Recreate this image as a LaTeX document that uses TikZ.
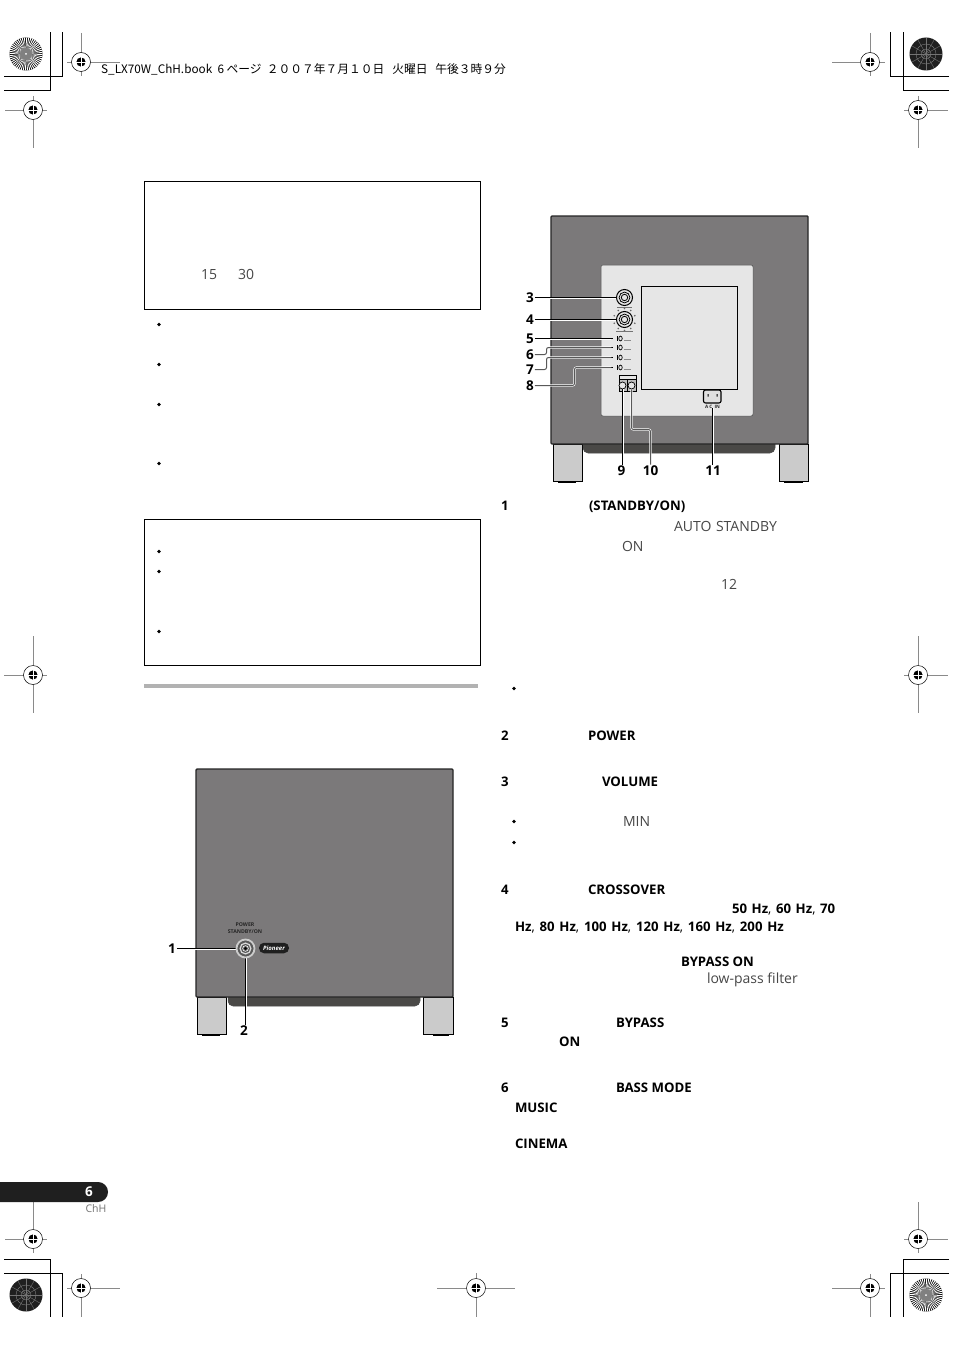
\documentclass[tikz,border=0pt]{standalone}
\usepackage{fontspec}
\setmainfont{Open Sans}
\newfontfamily\jpfont{Noto Sans CJK JP}
\definecolor{bodygray}{HTML}{7B797A}
\definecolor{stripgray}{HTML}{4A4947}
\definecolor{footgray}{HTML}{CBCBCB}
\definecolor{panelgray}{HTML}{E6E6E6}
\definecolor{regline}{HTML}{8A8A8A}
\tikzset{
  x=1pt,y=-1pt,
  txt/.style={anchor=base west,inner sep=0pt,outer sep=0pt,font=\fontsize{14}{14}\selectfont,text=black!72},
  btxt/.style={anchor=base west,inner sep=0pt,outer sep=0pt,font=\fontsize{13.2}{13.2}\selectfont\bfseries,text=black},
  numlab/.style={inner sep=0pt,outer sep=1pt,font=\fontsize{13.5}{13.5}\selectfont\bfseries,text=black},
  bul/.style={circle,fill=black,inner sep=0pt,minimum size=3.6pt},
  framebox/.style={draw=black,line width=0.8pt},
  leader/.style={draw=black,line width=1pt,preaction={draw=white,line width=2pt}},
  leaderhalo/.style={draw=black!65,line width=1pt,rounded corners=2pt,preaction={draw=white,line width=2.2pt}},
  cabinet/.style={fill=bodygray,draw=black!85,line width=1.4pt,rounded corners=1pt},
  strip/.style={fill=stripgray,draw=black!70,line width=0.5pt,rounded corners=5pt},
  foot/.style={fill=footgray,draw=black,line width=0.9pt},
  tiny/.style={inner sep=0pt,font=\fontsize{5.2}{7}\selectfont\bfseries,text=black!85,align=center},
  cropline/.style={black,line width=1pt},
  regl/.style={regline,line width=0.9pt}
}
\begin{document}
\begin{tikzpicture}
\useasboundingbox[fill=white] (0,0) rectangle (954,1351);
% registration marks
\foreach \cx/\cy/\l/\r/\u/\d in {81/62/14/39/29/14,33/110/28/14/14/38,870/62/38/15/29/14,918/110/14/30/14/38,33/675/29/14/39/38,918/675/14/30/39/38,33/1239/28/14/37/14,81/1288/14/39/14/29,476/1288/39/39/15/29,870/1288/38/15/14/29,918/1239/14/30/37/14}{
  \draw[regl] (\cx-\l,\cy) -- (\cx+\r,\cy);
  \draw[regl] (\cx,\cy-\u) -- (\cx,\cy+\d);
  \draw[black,line width=0.5pt,fill=white] (\cx,\cy) circle[radius=9.5];
  \fill[black] (\cx,\cy) circle[radius=4.6];
  \draw[white,line width=0.6pt] (\cx-5,\cy) -- (\cx+5,\cy) (\cx,\cy-5) -- (\cx,\cy+5);
}
% crop marks
\draw[cropline] (4,77) -- (62.5,77) -- (62.5,32);
\draw[cropline] (4,91) -- (50,91) -- (50,32);
\draw[cropline] (949,77) -- (890,77) -- (890,32);
\draw[cropline] (949,91) -- (903,91) -- (903,32);
\draw[cropline] (4,1259) -- (50,1259) -- (50,1317);
\draw[cropline] (4,1273) -- (62.5,1273) -- (62.5,1317);
\draw[cropline] (949,1259) -- (903,1259) -- (903,1317);
\draw[cropline] (949,1273) -- (890,1273) -- (890,1317);
% star targets
\foreach \cx/\cy in {26/54,926/1295}{
  \fill[black] (\cx,\cy) circle[radius=16.5];
  \foreach \a in {0,7.5,...,352.5}{
    \fill[white] (\cx,\cy) -- ({\cx+16.5*cos(\a)},{\cy+16.5*sin(\a)}) -- ({\cx+16.5*cos(\a+3.75)},{\cy+16.5*sin(\a+3.75)}) -- cycle;
  }
  \fill[black!50] (\cx,\cy) circle[radius=6];
  \fill[white] (\cx,\cy) circle[radius=1];
}
\foreach \cx/\cy in {926/54,26/1295}{
  \fill[black!88] (\cx,\cy) circle[radius=16.5];
  \foreach \a in {0,30,...,330}{
    \draw[black!55,line width=0.4pt] (\cx,\cy) -- ({\cx+16*cos(\a)},{\cy+16*sin(\a)});
  }
  \draw[black!50,line width=0.4pt] (\cx,\cy) circle[radius=5] (\cx,\cy) circle[radius=10];
}
% header line
\node[anchor=base west,inner sep=0pt,font=\fontsize{11.75}{12}\selectfont\jpfont,text=black] (hdr) at (101,74) {S\_LX70W\_ChH.book\ \ 6 ページ\ \ ２００７年７月１０日\ \ \ 火曜日\ \ \ 午後３時９分};
% left frames
\draw[framebox] (144,181) rectangle (480,309);
\draw[framebox] (144,519) rectangle (480,665);
\fill[black!30] (144,684) rectangle (478,688);
\node[txt] (t15) at (201,279) {15};
\node[txt] (t30) at (238,279) {30};
\foreach \bx/\by in {159/324.5,159/364.5,159/404.5,159/463.5,159/551.5,159/571.5,159/631.5,514/688.5,514/821.5,514/842.5}{
  \node[bul] at (\bx,\by) {};
}
% front view
\fill[foot] (197,997) rectangle (226,1034);
\fill[black] (202,1034) rectangle (220,1036);
\fill[foot] (423,997) rectangle (453,1034);
\fill[black] (433,1034) rectangle (449,1036);
\path[strip] (228,990) -- (228,1006) -- (420,1006) -- (420,990) -- cycle;
\path[cabinet] (196,769) rectangle (453,997);
\node[tiny] (fpower) at (245,928.5) {POWER\\STANDBY/ON};
\node[numlab] (n1) at (172,948.5) {1};
\node[numlab] (n2) at (244,1030.5) {2};
\coordinate (powerknob) at (245.5,948.5);
\draw[leader] (n1) -- (powerknob);
\draw[leader] (n2.north -| powerknob) -- (powerknob);
\draw[black!20,line width=1.8pt,fill=black!65] (powerknob) circle[radius=9];
\draw[black!15,line width=1.2pt] (powerknob) circle[radius=5.4];
\fill[black!70] (powerknob) circle[radius=2.5];
\draw[white,line width=0.6pt] (powerknob) circle[radius=2.8];
\fill[black] (powerknob) circle[radius=1.3];
\node[rounded corners=5pt,fill=black!88,minimum width=30pt,minimum height=10.5pt,inner sep=0pt,text=white,font=\fontsize{6}{6}\selectfont\bfseries\itshape] (pioneer) at (274,948) {Pioneer};
% rear view
\fill[foot] (553,444) rectangle (582,481);
\fill[black] (558,481) rectangle (576,483);
\fill[foot] (779,444) rectangle (808,481);
\fill[black] (784,481) rectangle (803,483);
\path[strip] (583,437) -- (583,453) -- (775,453) -- (775,437) -- cycle;
\path[cabinet] (551,216) rectangle (808,444);
\draw[fill=panelgray,draw=black!70,line width=0.5pt,rounded corners=2pt] (601,265) rectangle (753,416);
\draw[fill=panelgray,draw=black,line width=0.8pt] (641,286) rectangle (737,389);
% knobs
\foreach \nm/\ky in {k3/297.5,k4/319.5}{
  \node[circle,draw=black,line width=1pt,fill=panelgray,minimum size=16pt,inner sep=0pt] (\nm) at (624.5,\ky) {};
  \draw[black,line width=0.8pt] (624.5,\ky) circle[radius=5.4];
  \draw[black,line width=0.8pt] (624.5,\ky) circle[radius=3.2];
}
\fill[black!55] (617,306.5) rectangle (632,307.5);
\foreach \a in {20,55,90,125,160,200,235,270,305,340}{
  \fill[black!60] ({624.5+11*cos(\a)},{319.5+11*sin(\a)}) circle[radius=0.9];
}
\fill[black!55] (616,330.5) rectangle (633,332);
% switches
\foreach \nm/\sy in {s5/338.5,s6/347.5,s7/357.5,s8/367.5}{
  \node[inner sep=0pt,minimum width=1.6pt,minimum height=1.6pt,fill=black] (\nm) at (612,\sy) {};
  \draw[black,line width=0.8pt] (617.5,\sy-2.5) -- (617.5,\sy+2.5);
  \draw[black,line width=0.7pt] (620.5,\sy) ellipse[x radius=1.7,y radius=2.4];
  \fill[black!45] (623.5,\sy+1) rectangle (631,\sy+2);
}
% connectors
\draw[black,line width=0.9pt,fill=panelgray] (619,375) rectangle (636,379);
\draw[black,line width=0.7pt,fill=black!25] (619,379) rectangle (627.5,391);
\draw[black,line width=0.7pt,fill=black!25] (627.5,379) rectangle (636,391);
\node[circle,draw=black,line width=0.7pt,fill=panelgray,minimum size=7pt,inner sep=0pt] (c9) at (622.5,385.5) {};
\node[circle,draw=black,line width=0.7pt,fill=panelgray,minimum size=7pt,inner sep=0pt] (c10) at (631.5,385.5) {};
\draw[fill=black!12,draw=black,line width=1.1pt,rounded corners=2pt] (703.5,390) rectangle (721,403);
\fill[black] (707.5,394) rectangle (708.5,396.5) (716.5,394) rectangle (717.5,396.5);
\node[tiny,font=\fontsize{4.6}{5}\selectfont\bfseries] (acin) at (712.5,406.5) {A C\ \ IN};
% numbers
\foreach \nm/\lab/\nx/\ny in {n3/3/530/297.5,n4/4/530/319.5,n5/5/530/338.5,n6/6/530/354.5,n7/7/530/369.5,n8/8/530/385.5,n9/9/621.5/470.5,n10/10/650.5/470.5,n11/11/713/470.5}{
  \node[numlab] (\nm) at (\nx,\ny) {\lab};
}
\draw[leader] (n3) -- (k3);
\draw[leader] (n4) -- (k4);
\draw[leader] (n5) -- (s5);
\draw[leaderhalo] (n6.east) -- (546.5,354.5) -- (546.5,347.5) -- (s6);
\draw[leaderhalo] (n7.east) -- (546.5,369.5) -- (546.5,357.5) -- (s7);
\draw[leaderhalo] (n8.east) -- (574.5,385.5) -- (574.5,367.5) -- (s8);
\draw[leader] (n9.north -| c9) -- (c9);
\draw[leaderhalo] (n10) -- (650.5,429.5) -- (631.5,429.5) -- (c10);
\draw[leader] (n11.north -| acin) -- (acin);
% right-column text
\foreach \nm/\tx/\ty/\lab in {a1/501/510/1,a2/501/740/2,a3/501/786/3,a4/501/894/4,a5/501/1027/5,a6/501/1092/6}{
  \node[btxt] (\nm) at (\tx,\ty) {\lab};
}
\node[btxt] (b1) at (589,510) {(STANDBY/ON)};
\node[txt] (b2) at (674,531) {\spaceskip=4.6pt AUTO STANDBY};
\node[txt] (b3) at (622,551) {ON};
\node[txt] (b4) at (721,589) {12};
\node[btxt] (b5) at (588,740) {POWER};
\node[btxt] (b6) at (602,786) {VOLUME};
\node[txt] (b7) at (623,826) {MIN};
\node[btxt] (b8) at (588,894) {CROSSOVER};
\node[btxt] (b9) at (732,913) {\spaceskip=4.6pt 50 Hz{\mdseries,} 60 Hz{\mdseries,} 70};
\node[btxt] (b10) at (515,931) {\spaceskip=4.8pt Hz{\mdseries,} 80 Hz{\mdseries,} 100 Hz{\mdseries,} 120 Hz{\mdseries,} 160 Hz{\mdseries,} 200 Hz};
\node[btxt] (b11) at (681,966) {BYPASS ON};
\node[txt] (b12) at (707,983) {low-pass filter};
\node[btxt] (b13) at (616,1027) {BYPASS};
\node[btxt] (b14) at (559,1046) {ON};
\node[btxt] (b15) at (616,1092) {BASS MODE};
\node[btxt] (b16) at (515,1112) {MUSIC};
\node[btxt] (b17) at (515,1148) {CINEMA};
% page tab
\path[fill=black!88] (0,1182) [rounded corners=9.9pt] -- (108,1182) -- (108,1202) [sharp corners] -- (0,1202) -- cycle;
\node[inner sep=0pt,font=\fontsize{13.5}{14}\selectfont\bfseries,text=white] (pg) at (89,1192) {6};
\node[inner sep=0pt,font=\fontsize{10.5}{11}\selectfont,text=black!55] (chh) at (96,1209) {ChH};
\end{tikzpicture}
\end{document}
